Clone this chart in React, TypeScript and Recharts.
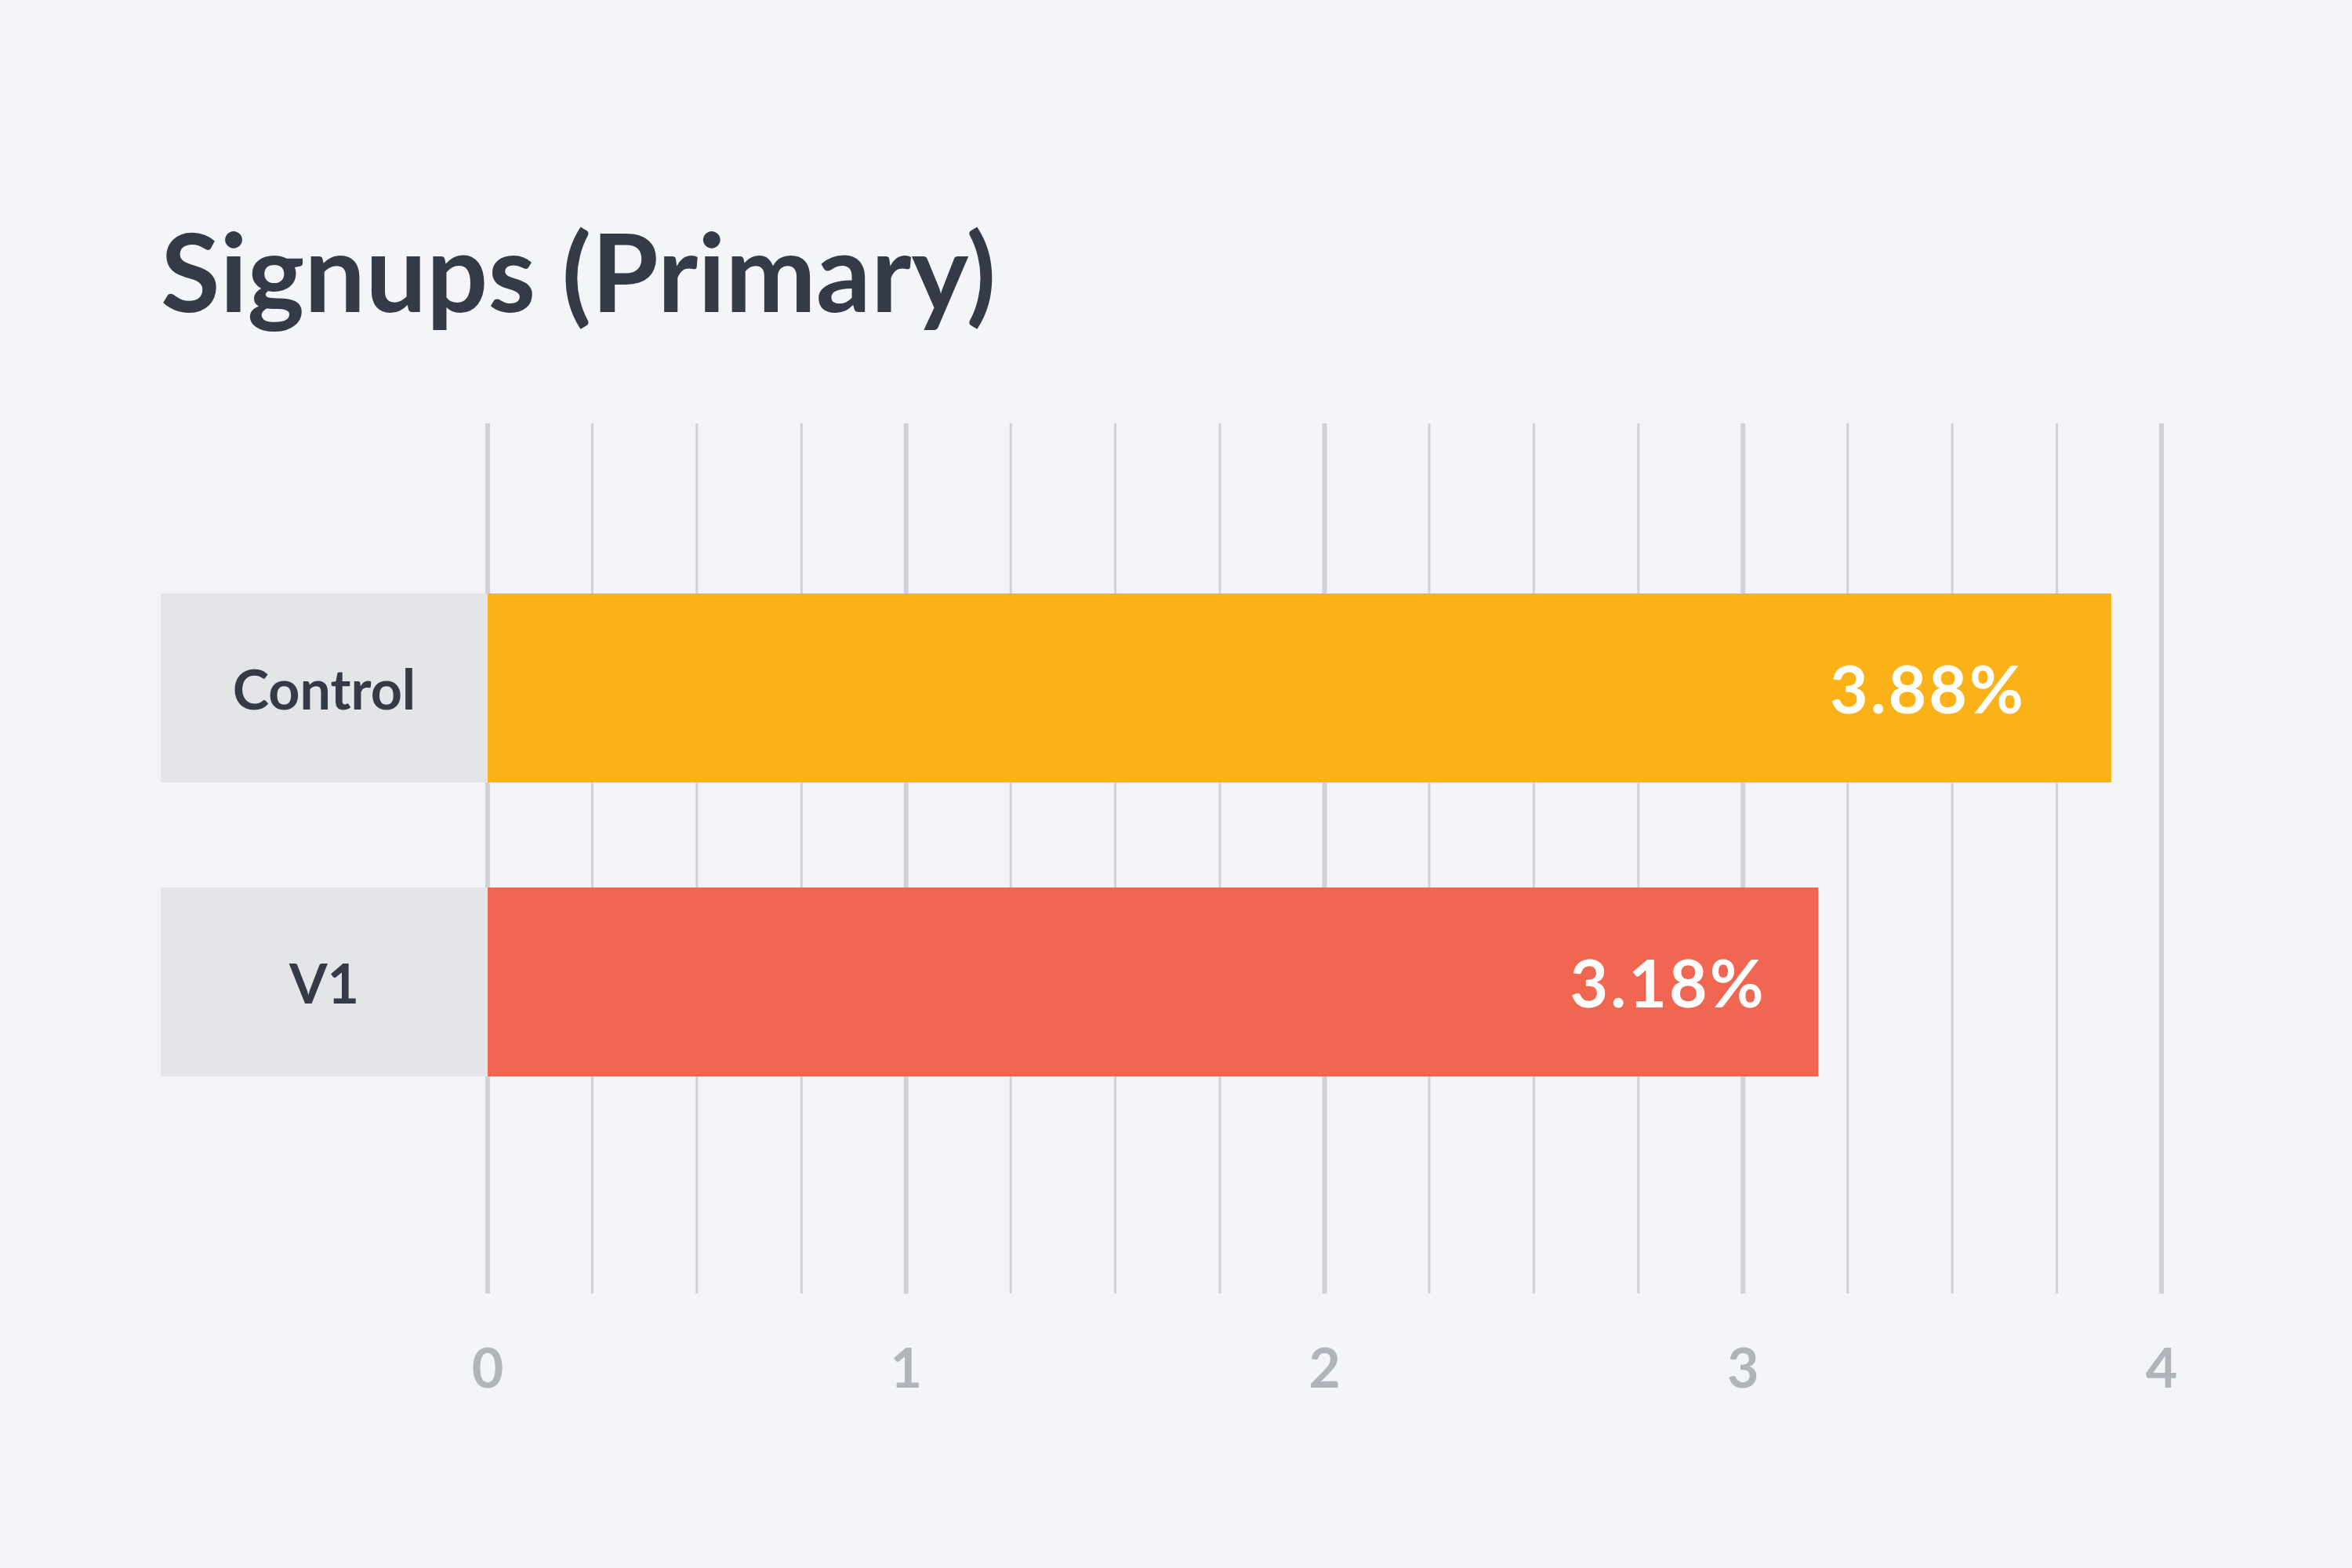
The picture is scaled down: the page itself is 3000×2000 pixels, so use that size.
import { BarChart, Bar, XAxis, YAxis, CartesianGrid, LabelList, Cell } from "recharts";

const variants = ["Control", "V1"];
const signupRates = [3.88, 3.18];
const barColors = ["#fbb118", "#f06651"];
const xTicks = [0, 0.25, 0.5, 0.75, 1, 1.25, 1.5, 1.75, 2, 2.25, 2.5, 2.75, 3, 3.25, 3.5, 3.75, 4];

const data = variants.map((name, i) => ({ name, rate: signupRates[i], color: barColors[i] }));

const FONT = "Lato, 'Open Sans', sans-serif";
const BAR_SIZE = 241;
const LABEL_LEFT = 205;
const LABEL_RIGHT = 622;

function VariantTick(props: any) {
  const { y, payload } = props;
  return (
    <g>
      <rect x={LABEL_LEFT} y={y - BAR_SIZE / 2} width={LABEL_RIGHT - LABEL_LEFT} height={BAR_SIZE} fill="#e4e5e9" />
      <text
        x={(LABEL_LEFT + LABEL_RIGHT) / 2}
        y={y}
        textAnchor="middle"
        dominantBaseline="central"
        fill="#343a46"
        fontFamily={FONT}
        fontSize={70}
        fontWeight={700}
      >
        {payload.value}
      </text>
    </g>
  );
}

function ValueTick(props: any) {
  const { x, y, payload } = props;
  if (!Number.isInteger(payload.value)) return null;
  return (
    <text
      x={x}
      y={y + 85}
      textAnchor="middle"
      dominantBaseline="central"
      fill="#b1b4bb"
      fontFamily={FONT}
      fontSize={70}
      fontWeight={700}
    >
      {payload.value}
    </text>
  );
}

// value label sits near the end of the bar, centred at ~89% of its length
function RateLabel(props: any) {
  const { x, y, width, height, value } = props;
  return (
    <text
      x={x + width * 0.887}
      y={y + height / 2}
      textAnchor="middle"
      dominantBaseline="central"
      fill="#ffffff"
      fontFamily={FONT}
      fontSize={84}
      fontWeight={700}
      letterSpacing={3}
    >
      {`${Number(value).toFixed(2)}%`}
    </text>
  );
}

export default function App() {
  return (
    <div style={{ position: "absolute", left: 0, top: 0, width: 3000, height: 2000, background: "#f4f5f9" }}>
      <svg width={3000} height={2000} style={{ position: "absolute", left: 0, top: 0 }}>
        <text x={205} y={398} fill="#343a46" fontFamily={FONT} fontSize={138} fontWeight={700}>
          Signups (Primary)
        </text>
      </svg>
      <div style={{ position: "absolute", left: 0, top: 0 }}>
        <BarChart
          width={3000}
          height={2000}
          data={data}
          layout="vertical"
          margin={{ top: 540, right: 243, bottom: 200, left: 205 }}
          barSize={BAR_SIZE}
        >
          <CartesianGrid
            horizontal={false}
            vertical={(p: any) => (
              <line
                key={`g-${p.index}`}
                x1={p.x1}
                y1={p.y1}
                x2={p.x2}
                y2={p.y2}
                stroke="#d0d2d7"
                strokeWidth={p.index % 4 === 0 ? 6 : 3}
              />
            )}
          />
          <XAxis
            type="number"
            domain={[0, 4]}
            ticks={xTicks}
            interval={0}
            axisLine={false}
            tickLine={false}
            height={150}
            tick={<ValueTick />}
          />
          <YAxis
            type="category"
            dataKey="name"
            width={417}
            axisLine={false}
            tickLine={false}
            padding={{ top: 150, bottom: 210 }}
            tick={<VariantTick />}
          />
          <Bar dataKey="rate" isAnimationActive={false}>
            {data.map((d) => (
              <Cell key={d.name} fill={d.color} />
            ))}
            <LabelList dataKey="rate" content={<RateLabel />} />
          </Bar>
        </BarChart>
      </div>
    </div>
  );
}
